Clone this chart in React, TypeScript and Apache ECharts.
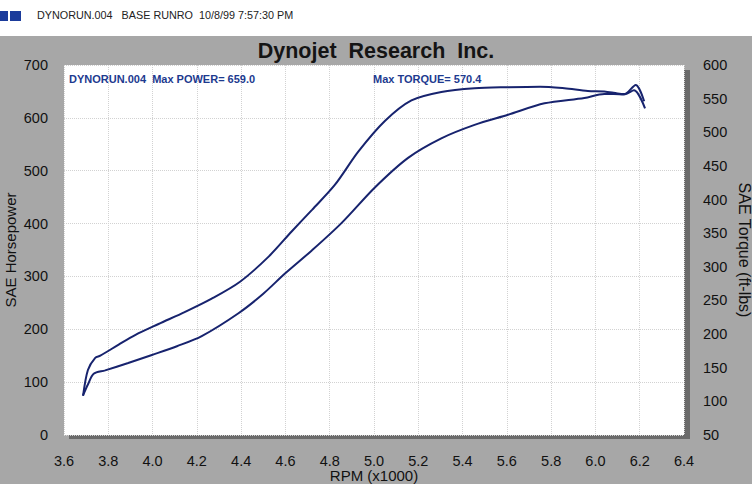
import React, { useEffect, useRef } from "react";
import * as echarts from "echarts";

const powerRpm = [3.686, 3.708, 3.741, 3.764, 3.847, 3.921, 4.027, 4.147, 4.267, 4.395, 4.523, 4.628, 4.72, 4.823, 4.929, 5.049, 5.169, 5.304, 5.454, 5.605, 5.75, 5.86, 5.966, 6.04, 6.1, 6.134, 6.174, 6.224];
const powerHp = [74, 123, 146, 150, 171, 189, 210, 233, 258, 290, 337, 385, 426, 473, 536, 594, 633, 649, 656, 658, 659, 656, 651, 650, 646, 645, 652, 618];

const torqueRpm = [3.686, 3.708, 3.734, 3.786, 3.89, 3.997, 4.11, 4.222, 4.388, 4.5, 4.598, 4.718, 4.853, 5.004, 5.154, 5.304, 5.454, 5.605, 5.77, 5.95, 6.04, 6.083, 6.128, 6.182, 6.22];
const torqueLbFt = [109, 125, 141, 146, 157, 169, 182, 197, 231, 260, 290, 324, 365, 418, 462, 491, 511, 526, 543, 551, 557, 557, 556, 570.4, 546];

const headerText = "DYNORUN.004   BASE RUNRO  10/8/99 7:57:30 PM";
const titleText = "Dynojet  Research  Inc.";
const powerNote = "DYNORUN.004  Max POWER= 659.0";
const torqueNote = "Max TORQUE= 570.4";

const FONT = "'Liberation Sans', Arial, sans-serif";
const LINE = "#17236e";
const NOTE = "#1d3a8f";

export default function App() {
  const ref = useRef<HTMLDivElement>(null);
  useEffect(() => {
    if (!ref.current) return;
    const chart = echarts.init(ref.current, undefined, { renderer: "svg" });
    const powerData = powerRpm.map((r, i) => [r, powerHp[i]]);
    const torqueData = torqueRpm.map((r, i) => [r, torqueLbFt[i]]);
    chart.setOption({
      animation: false,
      backgroundColor: "#a7a7a7",
      title: {
        text: titleText,
        left: "center",
        top: 35,
        textStyle: { fontSize: 21.5, fontWeight: "bold", fontFamily: FONT, color: "#141414" },
      },
      grid: {
        left: 64,
        right: 68,
        top: 65,
        bottom: 49,
        show: true,
        backgroundColor: "#ffffff",
        borderWidth: 0,
        containLabel: false,
        outerBoundsMode: "none",
      },
      graphic: [
        { type: "rect", z: -10, shape: { x: 0, y: 0, width: 752, height: 36 }, style: { fill: "#ffffff" } },
        { type: "rect", z: -10, shape: { x: 0, y: 11, width: 8, height: 10 }, style: { fill: "#1b3b9b" } },
        { type: "rect", z: -10, shape: { x: 10, y: 11, width: 11, height: 10 }, style: { fill: "#1b3b9b" } },
        { type: "rect", z: -5, shape: { x: 69, y: 70, width: 621, height: 369 }, style: { fill: "#6b6b6b" } },
        {
          type: "text", z: 100, x: 37, y: 15,
          style: { text: headerText, font: `10.8px ${FONT}`, fill: "#222", verticalAlign: "middle" },
        },
        {
          type: "text", z: 100, x: 69, y: 79,
          style: { text: powerNote, font: `bold 11px ${FONT}`, fill: NOTE, verticalAlign: "middle" },
        },
        {
          type: "text", z: 100, x: 373, y: 79,
          style: { text: torqueNote, font: `bold 11px ${FONT}`, fill: NOTE, verticalAlign: "middle" },
        },
      ],
      xAxis: {
        type: "value",
        min: 3.6,
        max: 6.4,
        interval: 0.2,
        name: "RPM (x1000)",
        nameLocation: "middle",
        nameGap: 33,
        nameMoveOverlap: false,
        nameTextStyle: { fontSize: 15, fontFamily: FONT, color: "#111" },
        axisLine: { show: false },
        axisTick: { show: false },
        axisLabel: {
          margin: 18,
          fontSize: 14.5,
          fontFamily: FONT,
          color: "#111",
          formatter: (v: number) => v.toFixed(1),
        },
        splitLine: { show: true, lineStyle: { color: "#d2d2d2", type: "dotted", width: 1 } },
      },
      yAxis: [
        {
          type: "value",
          min: 0,
          max: 700,
          interval: 100,
          position: "left",
          name: "SAE Horsepower",
          nameLocation: "middle",
          nameRotate: 90,
          nameGap: 46,
          nameMoveOverlap: false,
          nameTextStyle: { fontSize: 15, fontFamily: FONT, color: "#111" },
          axisLine: { show: false },
          axisTick: { show: false },
          axisLabel: { margin: 16, fontSize: 14.5, fontFamily: FONT, color: "#111" },
          splitLine: { show: true, lineStyle: { color: "#d2d2d2", type: "dotted", width: 1 } },
        },
        {
          type: "value",
          min: 50,
          max: 600,
          interval: 50,
          position: "right",
          name: "SAE Torque (ft-lbs)",
          nameLocation: "middle",
          nameRotate: -90,
          nameGap: 52,
          nameMoveOverlap: false,
          nameTextStyle: { fontSize: 16, fontFamily: FONT, color: "#111" },
          axisLine: { show: false },
          axisTick: { show: false },
          axisLabel: { margin: 19, fontSize: 14.5, fontFamily: FONT, color: "#111" },
          splitLine: { show: false },
        },
      ],
      series: [
        {
          name: "Power",
          type: "line",
          yAxisIndex: 0,
          data: powerData,
          showSymbol: false,
          smooth: 0.3,
          lineStyle: { color: LINE, width: 2 },
          z: 5,
        },
        {
          name: "Torque",
          type: "line",
          yAxisIndex: 1,
          data: torqueData,
          showSymbol: false,
          smooth: 0.3,
          lineStyle: { color: LINE, width: 2 },
          z: 5,
        },
      ],
    });
    return () => chart.dispose();
  }, []);
  return <div ref={ref} style={{ position: "fixed", left: 0, top: 0, width: 752, height: 484 }} />;
}
